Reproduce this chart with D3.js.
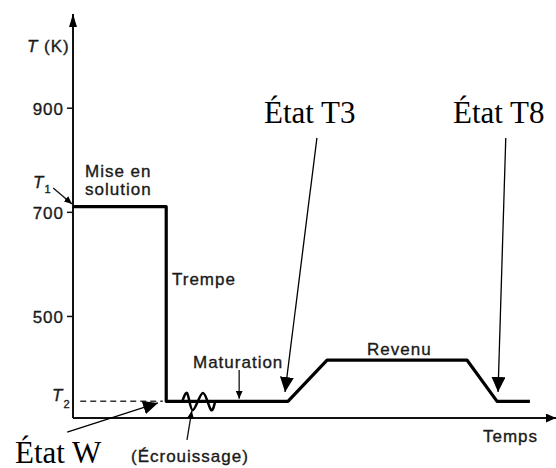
<!DOCTYPE html>
<html>
<head>
<meta charset="utf-8">
<script src="https://cdn.jsdelivr.net/npm/d3@7"></script>
<style>
  body { margin: 0; background: #fff; }
  svg { display: block; }
  .lbl { font-family: "Liberation Sans", Arial, sans-serif; font-size: 17px; letter-spacing: 1px; fill: #1a1a1a; stroke: #1a1a1a; stroke-width: 0.35px; }
  .etat { font-family: "Liberation Serif", "Times New Roman", serif; font-size: 31px; fill: #000; }
</style>
</head>
<body>
<script>
// temperature ticks (K)
var tempTicks = [500, 700, 900];
// heat treatment profile: time (arbitrary) / temperature (K)
var profileTime = [0, 19.3, 19.3, 44.5, 52.6, 81.6, 87.8, 94.6];
var profileTemp = [710, 710, 336, 336, 415, 415, 336, 336];
// cold work wiggle
var wiggleTime = [22.6, 23.6, 24.8, 26.9, 28.6, 29.4];
var wiggleTemp = [335, 352, 319, 352, 319, 335];
var T2 = 336;

var width = 556, height = 468;

var x = d3.scaleLinear().domain([0, 100]).range([73, 556]);
var y = d3.scaleLinear().domain([304, 1080]).range([418, 14]);

var svg = d3.select("body").append("svg")
    .attr("width", width)
    .attr("height", height);

var defs = svg.append("defs");
function marker(id, w, h) {
  defs.append("marker")
      .attr("id", id)
      .attr("markerUnits", "userSpaceOnUse")
      .attr("viewBox", "0 0 " + w + " " + h)
      .attr("refX", w).attr("refY", h / 2)
      .attr("markerWidth", w).attr("markerHeight", h)
      .attr("orient", "auto")
    .append("path")
      .attr("d", "M0,0L" + w + "," + (h / 2) + "L0," + h + "Z")
      .attr("fill", "#000");
}
marker("big", 15, 14);
marker("axisY", 13, 8);
marker("axisX", 10, 9);
marker("small", 8, 7);

svg.append("rect").attr("width", width).attr("height", height).attr("fill", "#fff");

// axes
svg.append("line")
    .attr("x1", x(0)).attr("y1", y(304))
    .attr("x2", x(0)).attr("y2", y(1080))
    .attr("stroke", "#111").attr("stroke-width", 2)
    .attr("marker-end", "url(#axisY)");
svg.append("line")
    .attr("x1", x(0)).attr("y1", y(304))
    .attr("x2", x(100)).attr("y2", y(304))
    .attr("stroke", "#111").attr("stroke-width", 2)
    .attr("marker-end", "url(#axisX)");

var yAxis = svg.append("g")
    .attr("transform", "translate(" + x(0) + ",0)")
    .call(d3.axisLeft(y).tickValues(tempTicks).tickSize(6).tickPadding(3));
yAxis.select(".domain").remove();
yAxis.selectAll("line").attr("stroke", "#111").attr("stroke-width", 1.5);
yAxis.selectAll("text").attr("class", "lbl").attr("fill", "#1a1a1a").attr("dy", "0.38em");

// T (K) label
var tk = svg.append("text").attr("class", "lbl").attr("x", 27).attr("y", 52);
tk.append("tspan").attr("font-style", "italic").text("T");
tk.append("tspan").text(" (K)");

// T1 / T2 labels
var t1 = svg.append("text").attr("class", "lbl").attr("x", 33).attr("y", 188);
t1.append("tspan").attr("font-style", "italic").text("T");
t1.append("tspan").attr("font-size", "11px").attr("dy", 5).text("1");
var t2 = svg.append("text").attr("class", "lbl").attr("x", 52).attr("y", 401);
t2.append("tspan").attr("font-style", "italic").text("T");
t2.append("tspan").attr("font-size", "11px").attr("dy", 7).text("2");

// T1 arrow
svg.append("line")
    .attr("x1", x(-4.1)).attr("y1", y(746))
    .attr("x2", x(-0.2)).attr("y2", y(715))
    .attr("stroke", "#111").attr("stroke-width", 1.3)
    .attr("marker-end", "url(#small)");

// T2 dashed guide
svg.append("line")
    .attr("x1", x(1.5)).attr("y1", y(T2))
    .attr("x2", x(18.6)).attr("y2", y(T2))
    .attr("stroke", "#333").attr("stroke-width", 1.5)
    .attr("stroke-dasharray", "6,4");

// profile
var profile = profileTime.map(function(t, i) { return [t, profileTemp[i]]; });
svg.append("path")
    .datum(profile)
    .attr("d", d3.line().x(function(d) { return x(d[0]); }).y(function(d) { return y(d[1]); }))
    .attr("fill", "none").attr("stroke", "#000").attr("stroke-width", 3.2)
    .attr("stroke-linejoin", "round");

var wiggle = wiggleTime.map(function(t, i) { return [t, wiggleTemp[i]]; });
svg.append("path")
    .datum(wiggle)
    .attr("d", d3.line().curve(d3.curveCardinal).x(function(d) { return x(d[0]); }).y(function(d) { return y(d[1]); }))
    .attr("fill", "none").attr("stroke", "#000").attr("stroke-width", 2.5);

// stage labels
svg.append("text").attr("class", "lbl").attr("x", 85).attr("y", 177).text("Mise en");
svg.append("text").attr("class", "lbl").attr("x", 85).attr("y", 195).text("solution");
svg.append("text").attr("class", "lbl").attr("x", 172).attr("y", 285).text("Trempe");
svg.append("text").attr("class", "lbl").attr("x", 193).attr("y", 368).text("Maturation");
svg.append("text").attr("class", "lbl").attr("x", 367).attr("y", 355).text("Revenu");
svg.append("text").attr("class", "lbl").attr("x", 483).attr("y", 442).text("Temps");
svg.append("text").attr("class", "lbl").attr("x", 131).attr("y", 462).text("(Écrouissage)");

// small arrows
svg.append("line")
    .attr("x1", x(34.4)).attr("y1", y(396))
    .attr("x2", x(34.4)).attr("y2", y(341))
    .attr("stroke", "#111").attr("stroke-width", 1.3)
    .attr("marker-end", "url(#small)");
svg.append("line")
    .attr("x1", x(23.6)).attr("y1", y(262))
    .attr("x2", x(24.6)).attr("y2", y(318))
    .attr("stroke", "#111").attr("stroke-width", 1.3)
    .attr("marker-end", "url(#small)");

// état annotations
var etats = [
  {name: "État W", tx: 15, ty: 463, from: [-1.2, 277], to: [17.6, 333]},
  {name: "État T3", tx: 264, ty: 123, from: [50.5, 842], to: [43.9, 354]},
  {name: "État T8", tx: 453, ty: 123, from: [89.6, 842], to: [88.0, 354]}
];
etats.forEach(function(e) {
  svg.append("line")
      .attr("x1", x(e.from[0])).attr("y1", y(e.from[1]))
      .attr("x2", x(e.to[0])).attr("y2", y(e.to[1]))
      .attr("stroke", "#000").attr("stroke-width", 1.3)
      .attr("marker-end", "url(#big)");
  svg.append("text").attr("class", "etat").attr("x", e.tx).attr("y", e.ty).text(e.name);
});
</script>
</body>
</html>
